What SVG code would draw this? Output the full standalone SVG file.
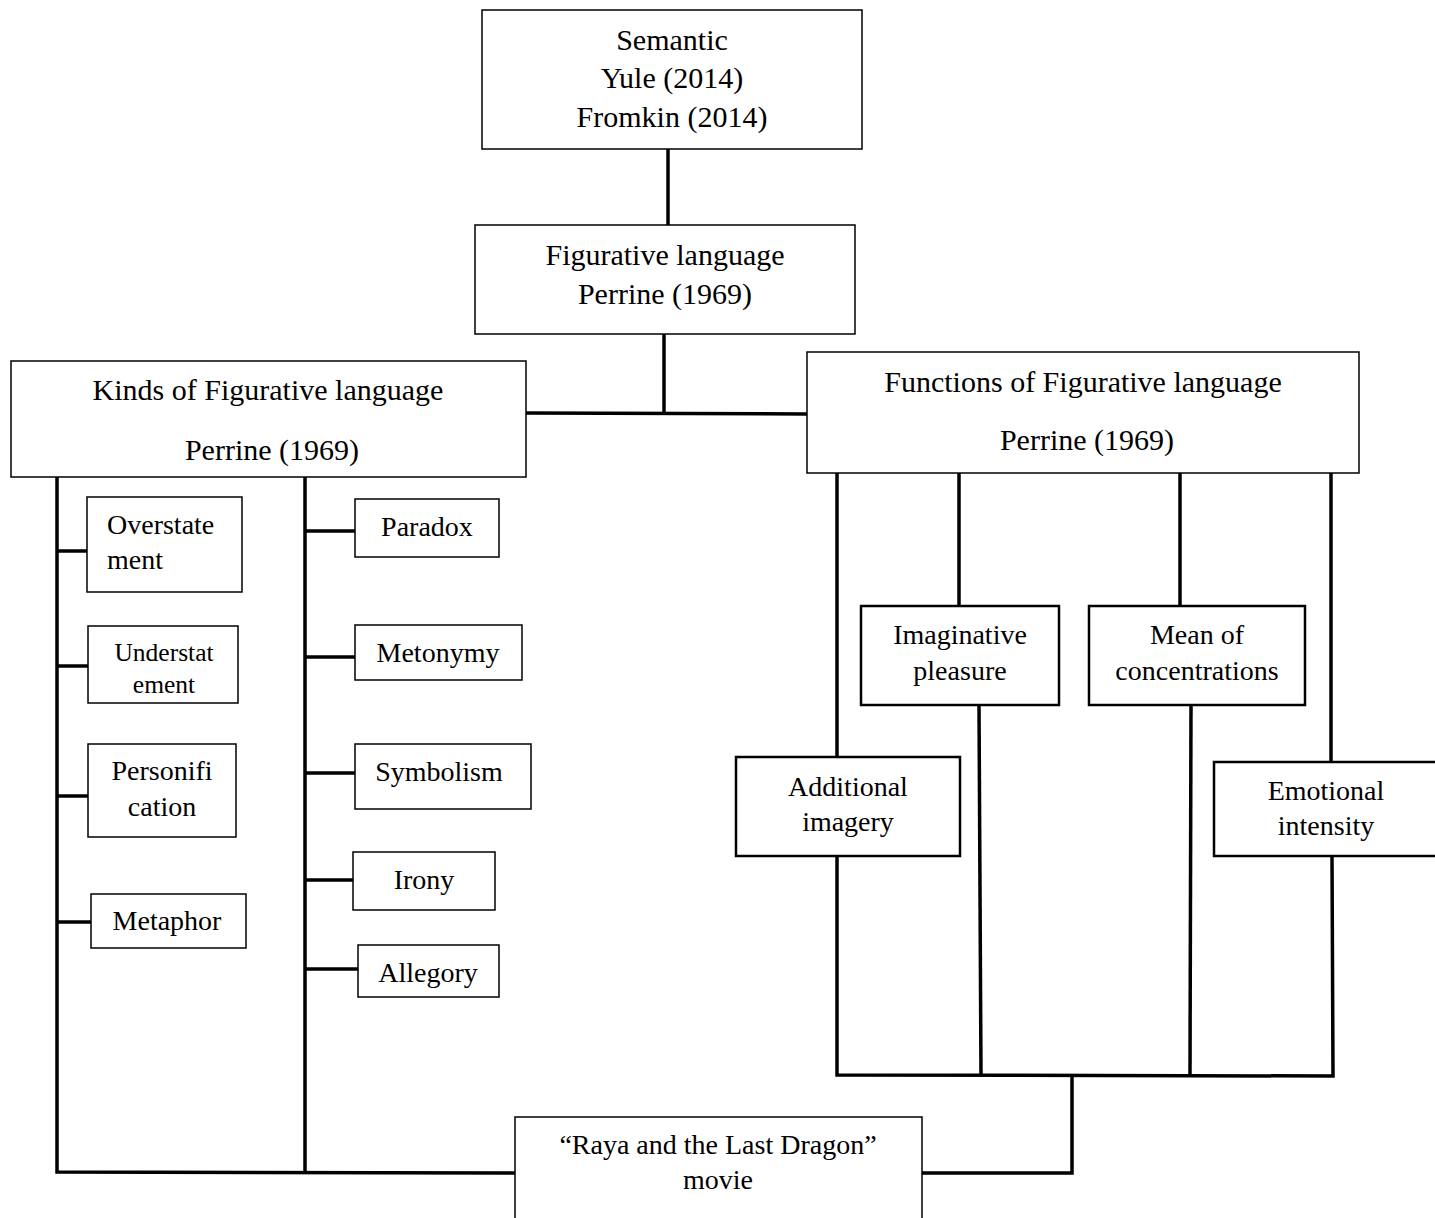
<svg xmlns="http://www.w3.org/2000/svg" width="1435" height="1218" viewBox="0 0 1435 1218">
<style>
text{font-family:"Liberation Serif","Times New Roman",serif;fill:#000;text-anchor:middle}
.big{font-size:30px}
.mid{font-size:28px}
.sm{font-size:25.5px}
.box{fill:#fff;stroke:#000;stroke-width:1.5}
.tbox{fill:#fff;stroke:#000;stroke-width:2.5}
.c{stroke:#000;stroke-width:3.5;fill:none}
</style>
<rect width="1435" height="1218" fill="#fff"/>
<g id="connectors">
<line class="c" x1="668" y1="149" x2="668" y2="225"/>
<line class="c" x1="664" y1="334" x2="664" y2="414"/>
<line class="c" x1="526" y1="413" x2="807" y2="414"/>
<polyline class="c" points="57,477 57,1172 515,1173"/>
<line class="c" x1="305" y1="477" x2="305" y2="1172"/>
<line class="c" x1="57" y1="551" x2="87" y2="551"/>
<line class="c" x1="57" y1="666" x2="88" y2="666"/>
<line class="c" x1="57" y1="796" x2="88" y2="796"/>
<line class="c" x1="57" y1="922" x2="91" y2="922"/>
<line class="c" x1="305" y1="531" x2="355" y2="531"/>
<line class="c" x1="305" y1="657" x2="355" y2="657"/>
<line class="c" x1="305" y1="773" x2="355" y2="773"/>
<line class="c" x1="305" y1="880" x2="353" y2="880"/>
<line class="c" x1="305" y1="969" x2="358" y2="969"/>
<line class="c" x1="837" y1="473" x2="837" y2="757"/>
<line class="c" x1="959" y1="473" x2="959" y2="606"/>
<line class="c" x1="1180" y1="473" x2="1180" y2="606"/>
<line class="c" x1="1331" y1="473" x2="1331" y2="762"/>
<polyline class="c" points="837,856 837,1075 1333,1076 1332,856"/>
<line class="c" x1="979" y1="705" x2="981" y2="1075"/>
<line class="c" x1="1191" y1="705" x2="1190" y2="1075"/>
<polyline class="c" points="922,1173 1072,1173 1072,1075"/>
</g>
<g id="semantic">
<rect class="box" x="482" y="10" width="380" height="139"/>
<text class="big" x="672" y="50">Semantic</text>
<text class="big" x="672" y="88">Yule (2014)</text>
<text class="big" x="672" y="127">Fromkin (2014)</text>
</g>
<g id="figurative">
<rect class="box" x="475" y="225" width="380" height="109"/>
<text class="big" x="665" y="265">Figurative language</text>
<text class="big" x="665" y="304">Perrine (1969)</text>
</g>
<g id="kinds">
<rect class="box" x="11" y="361" width="515" height="116"/>
<text class="big" x="268" y="400">Kinds of Figurative language</text>
<text class="big" x="272" y="460">Perrine (1969)</text>
</g>
<g id="functions">
<rect class="box" x="807" y="352" width="552" height="121"/>
<text class="big" x="1083" y="392">Functions of Figurative language</text>
<text class="big" x="1087" y="450">Perrine (1969)</text>
</g>
<g id="overstatement">
<rect class="box" x="87" y="497" width="155" height="95"/>
<text class="mid" x="107" y="534" style="text-anchor:start">Overstate</text>
<text class="mid" x="107" y="569" style="text-anchor:start">ment</text>
</g>
<g id="understatement">
<rect class="box" x="88" y="626" width="150" height="77"/>
<text class="sm" x="164" y="661">Understat</text>
<text class="sm" x="164" y="693">ement</text>
</g>
<g id="personification">
<rect class="box" x="88" y="744" width="148" height="93"/>
<text class="mid" x="162" y="780">Personifi</text>
<text class="mid" x="162" y="816">cation</text>
</g>
<g id="metaphor">
<rect class="box" x="91" y="894" width="155" height="54"/>
<text class="mid" x="167" y="930">Metaphor</text>
</g>
<g id="paradox">
<rect class="box" x="355" y="499" width="144" height="58"/>
<text class="mid" x="427" y="536">Paradox</text>
</g>
<g id="metonymy">
<rect class="box" x="355" y="625" width="167" height="55"/>
<text class="mid" x="438" y="662">Metonymy</text>
</g>
<g id="symbolism">
<rect class="box" x="355" y="744" width="176" height="65"/>
<text class="mid" x="439" y="781">Symbolism</text>
</g>
<g id="irony">
<rect class="box" x="353" y="852" width="142" height="58"/>
<text class="mid" x="424" y="889">Irony</text>
</g>
<g id="allegory">
<rect class="box" x="358" y="945" width="141" height="52"/>
<text class="mid" x="428" y="982">Allegory</text>
</g>
<g id="imaginative">
<rect class="tbox" x="861" y="606" width="198" height="99"/>
<text class="mid" x="960" y="644">Imaginative</text>
<text class="mid" x="960" y="680">pleasure</text>
</g>
<g id="mean">
<rect class="tbox" x="1089" y="606" width="216" height="99"/>
<text class="mid" x="1197" y="644">Mean of</text>
<text class="mid" x="1197" y="680">concentrations</text>
</g>
<g id="additional">
<rect class="tbox" x="736" y="757" width="224" height="99"/>
<text class="mid" x="848" y="796">Additional</text>
<text class="mid" x="848" y="831">imagery</text>
</g>
<g id="emotional">
<rect class="tbox" x="1214" y="762" width="230" height="94"/>
<text class="mid" x="1326" y="800">Emotional</text>
<text class="mid" x="1326" y="835">intensity</text>
</g>
<g id="raya">
<rect class="box" x="515" y="1117" width="407" height="110"/>
<text class="mid" x="718" y="1154">“Raya and the Last Dragon”</text>
<text class="mid" x="718" y="1189">movie</text>
</g>
</svg>
